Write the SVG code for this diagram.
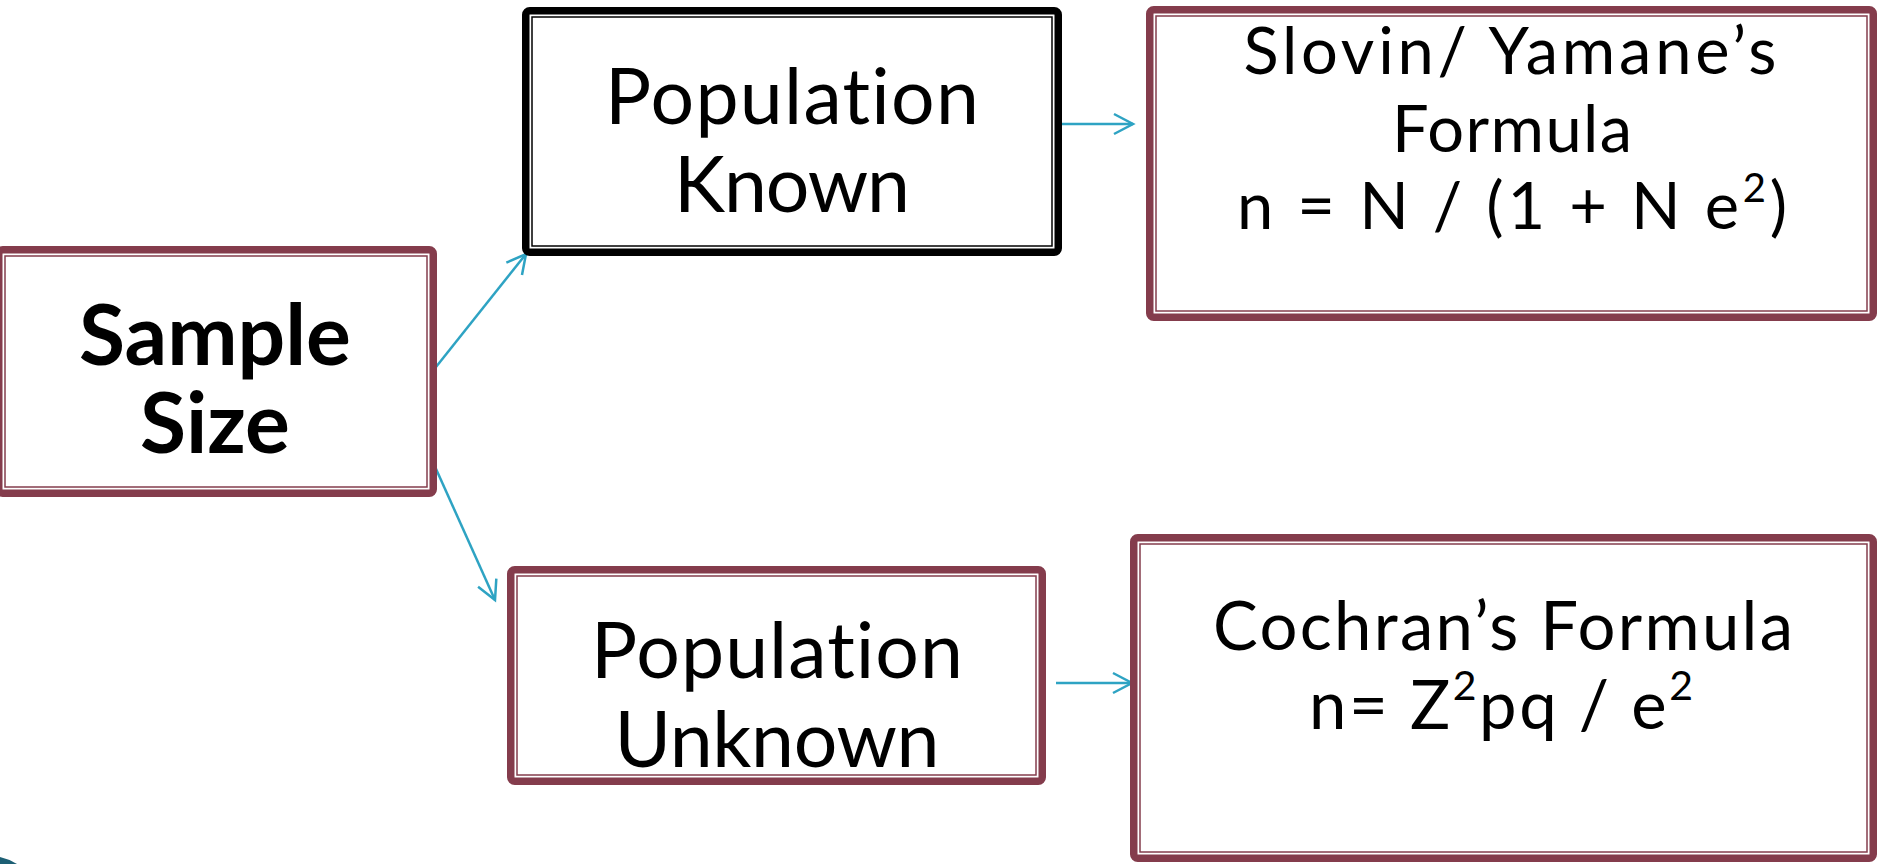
<svg xmlns="http://www.w3.org/2000/svg" width="1878" height="864" viewBox="0 0 1878 864">
  <style>
    .thick { fill: #ffffff; stroke: #843c4c; stroke-width: 7.5; }
    .thin { fill: none; stroke: #843c4c; stroke-width: 1.5; }
    .thick.dark { stroke: #000000; }
    .thin.dark { stroke: #000000; }
    .lbl { font-family: "Lato", "Open Sans", sans-serif; fill: #000000; text-anchor: middle;
           font-variant-ligatures: none; font-feature-settings: "liga" 0, "clig" 0; }
    .big { font-size: 77px; }
    .bold { font-size: 84px; font-weight: 700; }
    .mid { font-size: 65px; }
    .mid2 { font-size: 67px; }
    .link { fill: none; stroke: #2ea3c3; stroke-width: 2.5; marker-end: url(#head); }
  </style>
  <defs>
    <marker id="head" markerUnits="userSpaceOnUse" markerWidth="40" markerHeight="40" viewBox="-30 -20 40 40" refX="0" refY="0" orient="auto" overflow="visible">
      <path d="M-19,-10 L0,0 L-19,10" fill="none" stroke="#2ea3c3" stroke-width="2.5" stroke-linejoin="miter"/>
    </marker>
  </defs>

  <rect width="1878" height="864" fill="#ffffff"/>

  <!-- slide corner ornament -->
  <path d="M0,857 Q9,859 17,864 L0,864 Z" fill="#1d5f74"/>

  <!-- connectors -->
  <g id="connectors">
    <line class="link" x1="432" y1="372" x2="526" y2="254"/>
    <line class="link" x1="432" y1="460" x2="495" y2="600"/>
    <line class="link" x1="1056" y1="124" x2="1133" y2="124"/>
    <line class="link" x1="1056" y1="683" x2="1132" y2="683"/>
  </g>

  <g id="sample-size">
    <rect class="thick" x="-1.25" y="249.75" width="434.5" height="243.5" rx="4"/>
    <rect class="thin" x="5" y="256" width="422" height="231"/>
    <text class="lbl bold" x="215" y="365">Sample</text>
    <text class="lbl bold" x="215" y="453">Size</text>
  </g>

  <g id="population-known">
    <rect class="thick dark" x="525.75" y="10.75" width="532.5" height="241.5" rx="4"/>
    <rect class="thin dark" x="532" y="17" width="520" height="229"/>
    <text class="lbl big" x="792" y="124" textLength="374" lengthAdjust="spacing">Population</text>
    <text class="lbl big" x="792" y="212" textLength="236" lengthAdjust="spacing">Known</text>
  </g>

  <g id="population-unknown">
    <rect class="thick" x="510.75" y="569.75" width="531.5" height="211.5" rx="4"/>
    <rect class="thin" x="517" y="576" width="519" height="199"/>
    <text class="lbl big" x="777" y="678" textLength="372" lengthAdjust="spacing">Population</text>
    <text class="lbl big" x="777" y="767" textLength="325" lengthAdjust="spacing">Unknown</text>
  </g>

  <g id="slovin-formula">
    <rect class="thick" x="1149.75" y="9.75" width="723.5" height="307.5" rx="4"/>
    <rect class="thin" x="1156" y="16" width="711" height="295"/>
    <text class="lbl mid" x="1510" y="74" textLength="533" lengthAdjust="spacing">Slovin/ Yamane’s</text>
    <text class="lbl mid" x="1512" y="152" textLength="240" lengthAdjust="spacing">Formula</text>
    <text class="lbl mid" x="1512" y="229" textLength="550" lengthAdjust="spacing">n = N / (1 + N e<tspan font-size="40" dy="-27">2</tspan><tspan dy="27">)</tspan></text>
  </g>

  <g id="cochran-formula">
    <rect class="thick" x="1133.75" y="537.75" width="739.5" height="320.5" rx="4"/>
    <rect class="thin" x="1140" y="544" width="727" height="308"/>
    <text class="lbl mid2" x="1503" y="650" textLength="580" lengthAdjust="spacing">Cochran’s Formula</text>
    <text class="lbl mid2" x="1501" y="729" textLength="384" lengthAdjust="spacing">n= Z<tspan font-size="41" dy="-29">2</tspan><tspan dy="29">pq / e</tspan><tspan font-size="41" dy="-29">2</tspan></text>
  </g>
</svg>
